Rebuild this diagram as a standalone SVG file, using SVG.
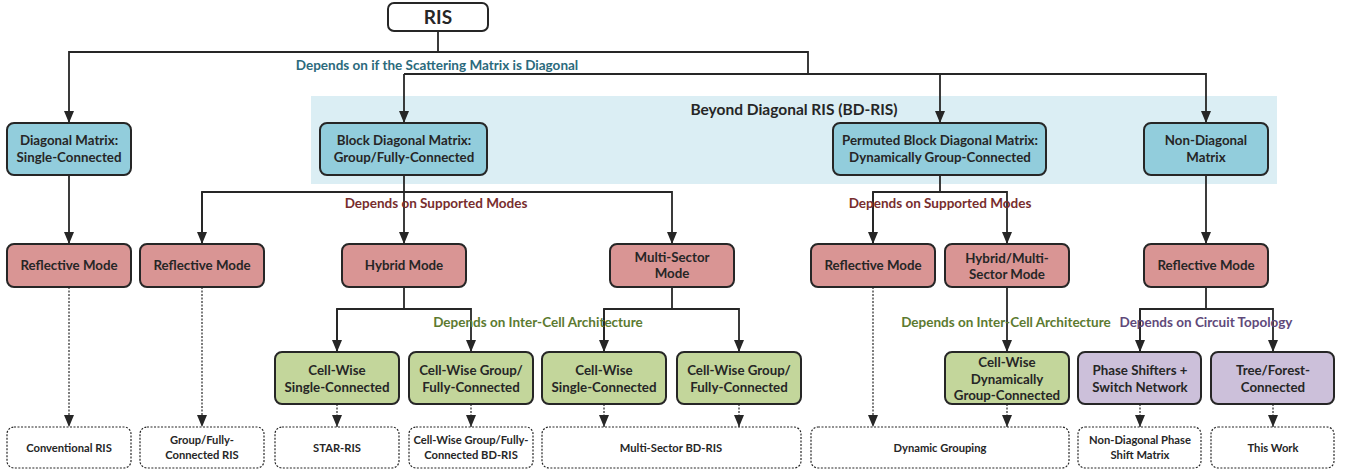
<svg xmlns="http://www.w3.org/2000/svg" width="1346" height="474" viewBox="0 0 1346 474">
<defs>
<marker id="ah" viewBox="0 0 12 10" refX="12" refY="5" markerWidth="12" markerHeight="10" markerUnits="userSpaceOnUse" orient="auto">
<path d="M0,0 L12,5 L0,10 z" fill="#262626"/>
</marker>
<style>
.bx{stroke:#262626;stroke-width:2;}
.blue{fill:#92cddc;}
.red{fill:#d99594;}
.green{fill:#c3d69b;}
.purple{fill:#ccc0da;}
.leaf{fill:#ffffff;stroke:#262626;stroke-width:1.2;stroke-dasharray:2 1.5;}
.t{font-family:Lato,"Liberation Sans",sans-serif;font-weight:bold;font-size:13.3px;fill:#262626;text-anchor:middle;}
.s{font-family:Lato,"Liberation Sans",sans-serif;font-weight:bold;font-size:11.2px;fill:#262626;text-anchor:middle;}
.lb{font-family:Lato,"Liberation Sans",sans-serif;font-weight:bold;font-size:13.5px;text-anchor:middle;}
.ln{fill:none;stroke:#262626;stroke-width:1.8;}
.dl{fill:none;stroke:#262626;stroke-width:1.2;stroke-dasharray:2 1.5;}
</style>
</defs>
<rect x="311" y="96" width="966" height="88" fill="#dbeef4"/>
<text x="794" y="115" class="t" style="font-size:15.5px">Beyond Diagonal RIS (BD-RIS)</text>

<g id="connectors">
<path class="ln" d="M438,31 V52 H69 V123" marker-end="url(#ah)"/>
<path class="ln" d="M438,52 H808 V74"/>
<path class="ln" d="M404,74 V123" marker-end="url(#ah)"/>
<path class="ln" d="M404,74 H1206 V123" marker-end="url(#ah)"/>
<path class="ln" d="M940,74 V123" marker-end="url(#ah)"/>
<path class="ln" d="M69,175 V244" marker-end="url(#ah)"/>
<path class="ln" d="M404,175 V244" marker-end="url(#ah)"/>
<path class="ln" d="M202,244 V192 H672 V244" marker-end="url(#ah)"/>
<path class="ln" d="M202,192 V244" marker-end="url(#ah)"/>
<path class="ln" d="M940,175 V192"/>
<path class="ln" d="M873,244 V192 H1007 V244" marker-end="url(#ah)"/>
<path class="ln" d="M873,192 V244" marker-end="url(#ah)"/>
<path class="ln" d="M1206,175 V244" marker-end="url(#ah)"/>
<path class="ln" d="M404,287 V309"/>
<path class="ln" d="M337,352 V309 H471 V352" marker-end="url(#ah)"/>
<path class="ln" d="M337,309 V352" marker-end="url(#ah)"/>
<path class="ln" d="M672,287 V309"/>
<path class="ln" d="M604,352 V309 H739 V352" marker-end="url(#ah)"/>
<path class="ln" d="M604,309 V352" marker-end="url(#ah)"/>
<path class="ln" d="M1007,287 V352" marker-end="url(#ah)"/>
<path class="ln" d="M1206,287 V309"/>
<path class="ln" d="M1140,352 V309 H1273 V352" marker-end="url(#ah)"/>
<path class="ln" d="M1140,309 V352" marker-end="url(#ah)"/>
<path class="dl" d="M69,287 V427" marker-end="url(#ah)"/>
<path class="dl" d="M202,287 V427" marker-end="url(#ah)"/>
<path class="dl" d="M873,287 V427" marker-end="url(#ah)"/>
<path class="dl" d="M337,404 V427" marker-end="url(#ah)"/>
<path class="dl" d="M471,404 V427" marker-end="url(#ah)"/>
<path class="dl" d="M604,404 V427" marker-end="url(#ah)"/>
<path class="dl" d="M739,404 V427" marker-end="url(#ah)"/>
<path class="dl" d="M1007,404 V427" marker-end="url(#ah)"/>
<path class="dl" d="M1140,404 V427" marker-end="url(#ah)"/>
<path class="dl" d="M1273,404 V427" marker-end="url(#ah)"/>
<text x="437" y="70" class="lb" fill="#2b6a7c">Depends on if the Scattering Matrix is Diagonal</text>
<text x="436" y="208" class="lb" fill="#772d2d">Depends on Supported Modes</text>
<text x="940" y="208" class="lb" fill="#772d2d">Depends on Supported Modes</text>
<text x="538" y="327" class="lb" fill="#5c7a30">Depends on Inter-Cell Architecture</text>
<text x="1006" y="327" class="lb" fill="#5c7a30">Depends on Inter-Cell Architecture</text>
<text x="1206" y="327" class="lb" fill="#5f497a">Depends on Circuit Topology</text>
</g>

<g id="n-ris"><rect class="bx" x="388" y="3" width="100" height="28" rx="6" fill="#ffffff"/><text x="438" y="24" class="t" style="font-size:19px">RIS</text></g>

<g id="n-diag"><rect class="bx blue" x="7" y="123" width="124" height="52" rx="7"/><text x="69" y="145" class="t">Diagonal Matrix:</text><text x="69" y="162" class="t">Single-Connected</text></g>
<g id="n-block"><rect class="bx blue" x="320" y="123" width="167" height="52" rx="7"/><text x="404" y="145" class="t">Block Diagonal Matrix:</text><text x="404" y="162" class="t">Group/Fully-Connected</text></g>
<g id="n-perm"><rect class="bx blue" x="833" y="123" width="213" height="52" rx="7"/><text x="940" y="145" class="t">Permuted Block Diagonal Matrix:</text><text x="940" y="162" class="t">Dynamically Group-Connected</text></g>
<g id="n-nondiag"><rect class="bx blue" x="1144" y="123" width="124" height="52" rx="7"/><text x="1206" y="145" class="t">Non-Diagonal</text><text x="1206" y="162" class="t">Matrix</text></g>

<g id="n-refl1"><rect class="bx red" x="7" y="244" width="124" height="43" rx="7"/><text x="69" y="270" class="t">Reflective Mode</text></g>
<g id="n-refl2"><rect class="bx red" x="140" y="244" width="124" height="43" rx="7"/><text x="202" y="270" class="t">Reflective Mode</text></g>
<g id="n-hybrid"><rect class="bx red" x="342" y="244" width="124" height="43" rx="7"/><text x="404" y="270" class="t">Hybrid Mode</text></g>
<g id="n-multi"><rect class="bx red" x="610" y="244" width="124" height="43" rx="7"/><text x="672" y="262" class="t">Multi-Sector</text><text x="672" y="278" class="t">Mode</text></g>
<g id="n-refl3"><rect class="bx red" x="811" y="244" width="124" height="43" rx="7"/><text x="873" y="270" class="t">Reflective Mode</text></g>
<g id="n-hybmulti"><rect class="bx red" x="945" y="244" width="124" height="43" rx="7"/><text x="1007" y="263" class="t">Hybrid/Multi-</text><text x="1007" y="279" class="t">Sector Mode</text></g>
<g id="n-refl4"><rect class="bx red" x="1144" y="244" width="124" height="43" rx="7"/><text x="1206" y="270" class="t">Reflective Mode</text></g>

<g id="n-cws1"><rect class="bx green" x="275" y="352" width="124" height="52" rx="7"/><text x="337" y="375" class="t">Cell-Wise</text><text x="337" y="392" class="t">Single-Connected</text></g>
<g id="n-cwg1"><rect class="bx green" x="409" y="352" width="124" height="52" rx="7"/><text x="471" y="375" class="t">Cell-Wise Group/</text><text x="471" y="392" class="t">Fully-Connected</text></g>
<g id="n-cws2"><rect class="bx green" x="542" y="352" width="124" height="52" rx="7"/><text x="604" y="375" class="t">Cell-Wise</text><text x="604" y="392" class="t">Single-Connected</text></g>
<g id="n-cwg2"><rect class="bx green" x="677" y="352" width="124" height="52" rx="7"/><text x="739" y="375" class="t">Cell-Wise Group/</text><text x="739" y="392" class="t">Fully-Connected</text></g>
<g id="n-cwd"><rect class="bx green" x="945" y="352" width="124" height="52" rx="7"/><text x="1007" y="367" class="t">Cell-Wise</text><text x="1007" y="384" class="t">Dynamically</text><text x="1007" y="400" class="t">Group-Connected</text></g>
<g id="n-ps"><rect class="bx purple" x="1078" y="352" width="123" height="52" rx="7"/><text x="1140" y="375" class="t">Phase Shifters +</text><text x="1140" y="392" class="t">Switch Network</text></g>
<g id="n-tree"><rect class="bx purple" x="1211" y="352" width="123" height="52" rx="7"/><text x="1273" y="375" class="t">Tree/Forest-</text><text x="1273" y="392" class="t">Connected</text></g>

<g id="l-conv"><rect class="leaf" x="7" y="427" width="124" height="41" rx="7"/><text x="69" y="452" class="s">Conventional RIS</text></g>
<g id="l-gf"><rect class="leaf" x="140" y="427" width="124" height="41" rx="7"/><text x="202" y="444" class="s">Group/Fully-</text><text x="202" y="459" class="s">Connected RIS</text></g>
<g id="l-star"><rect class="leaf" x="275" y="427" width="124" height="41" rx="7"/><text x="337" y="452" class="s">STAR-RIS</text></g>
<g id="l-cwg"><rect class="leaf" x="409" y="427" width="124" height="41" rx="7"/><text x="471" y="444" class="s">Cell-Wise Group/Fully-</text><text x="471" y="459" class="s">Connected BD-RIS</text></g>
<g id="l-ms"><rect class="leaf" x="542" y="427" width="259" height="41" rx="7"/><text x="671" y="452" class="s">Multi-Sector BD-RIS</text></g>
<g id="l-dg"><rect class="leaf" x="811" y="427" width="258" height="41" rx="7"/><text x="940" y="452" class="s">Dynamic Grouping</text></g>
<g id="l-ndps"><rect class="leaf" x="1078" y="427" width="123" height="41" rx="7"/><text x="1140" y="444" class="s">Non-Diagonal Phase</text><text x="1140" y="459" class="s">Shift Matrix</text></g>
<g id="l-tw"><rect class="leaf" x="1211" y="427" width="123" height="41" rx="7"/><text x="1273" y="452" class="s">This Work</text></g>
</svg>
